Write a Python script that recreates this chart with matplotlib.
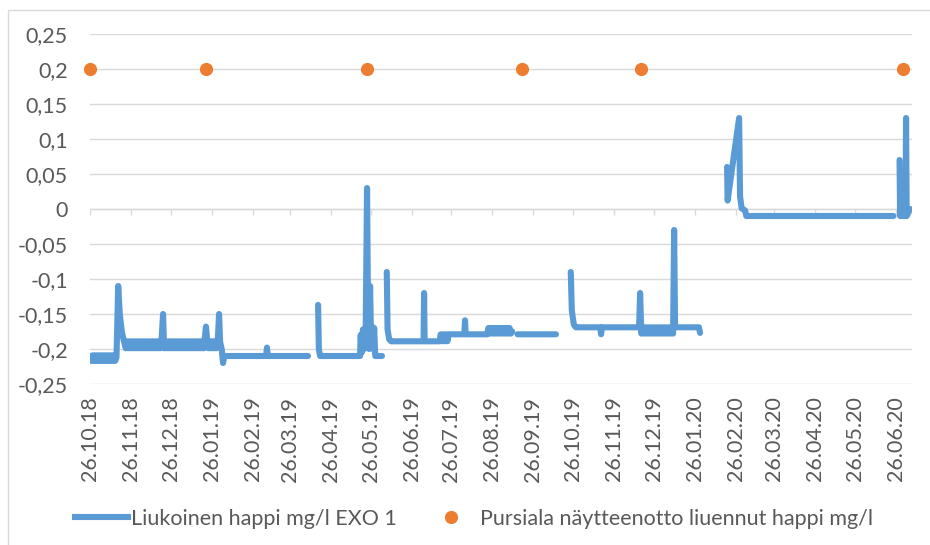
import numpy as np
import pandas as pd
import matplotlib
matplotlib.use("Agg")
import matplotlib.pyplot as plt
import matplotlib.dates as mdates
from matplotlib.lines import Line2D
from matplotlib.patches import Rectangle
from matplotlib.ticker import FuncFormatter

plt.rcParams['font.family'] = ['Lato', 'DejaVu Sans']

# ---------------- data ----------------
start_date = "2018-10-26"
axis_end = "2020-07-08"

# sensor series "Liukoinen happi mg/l EXO 1": (day offset from start_date, mg/l)
# each list is one continuous logging period (gaps between them)
seg_oct_jan = [
    (0, -0.211), (1, -0.217), (2, -0.209), (3, -0.217), (4, -0.209),
    (5, -0.217), (6, -0.209), (7, -0.217), (8, -0.209), (9, -0.217),
    (10, -0.209), (11, -0.217), (12, -0.209), (13, -0.217), (14, -0.209),
    (15, -0.217), (16, -0.209), (17, -0.217), (18, -0.209), (19, -0.217),
    (20, -0.212), (21.3, -0.110), (22.5, -0.150), (24, -0.175), (25.5, -0.188),
    (27, -0.199), (28, -0.189), (29, -0.199), (30, -0.189), (31, -0.199),
    (32, -0.189), (33, -0.199), (34, -0.189), (35, -0.199), (36, -0.189),
    (37, -0.199), (38, -0.189), (39, -0.199), (40, -0.189), (41, -0.199),
    (42, -0.189), (43, -0.199), (44, -0.189), (45, -0.199), (46, -0.189),
    (47, -0.199), (48, -0.189), (49, -0.199), (50, -0.189), (51, -0.199),
    (52, -0.189), (53, -0.199), (54, -0.189), (55.2, -0.150), (56, -0.199),
    (57, -0.189), (58, -0.199), (59, -0.189), (60, -0.199), (61, -0.189),
    (62, -0.199), (63, -0.189), (64, -0.199), (65, -0.189), (66, -0.199),
    (67, -0.189), (68, -0.199), (69, -0.189), (70, -0.199), (71, -0.189),
    (72, -0.199), (73, -0.189), (74, -0.199), (75, -0.189), (76, -0.199),
    (77, -0.189), (78, -0.199), (79, -0.189), (80, -0.199), (81, -0.189),
    (82, -0.199), (83, -0.189), (84, -0.199), (85, -0.189), (86, -0.199),
    (87.6, -0.168), (88.6, -0.189), (89.5, -0.199), (90.5, -0.189),
    (91.5, -0.199), (92.5, -0.189), (93.5, -0.199), (94.5, -0.189),
    (95.5, -0.199), (96.5, -0.189), (97.5, -0.150), (98.3, -0.190),
    (99.5, -0.200), (100.5, -0.220), (101.5, -0.210), (133, -0.210),
    (133.7, -0.198), (134.4, -0.210), (164.7, -0.210),
]
seg_apr_may = [
    (172.3, -0.137), (172.9, -0.200), (173.8, -0.210), (204, -0.210),
    (204.5, -0.180), (205.3, -0.205), (206.2, -0.172), (207.2, -0.200),
    (208.3, -0.168), (209.3, 0.030), (210.1, -0.160), (210.9, -0.200),
    (211.6, -0.110), (212.3, -0.185), (213.1, -0.168), (213.9, -0.200),
    (214.7, -0.170), (215.5, -0.210), (220.6, -0.210),
]
seg_jun_aug = [
    (224.2, -0.090), (224.8, -0.172), (226, -0.186), (227.5, -0.189),
    (252, -0.189), (252.4, -0.120), (252.8, -0.189), (264, -0.189),
    (265, -0.179), (266, -0.189), (267, -0.179), (268, -0.189), (269, -0.179),
    (270, -0.189), (271, -0.179), (282.8, -0.179), (283.3, -0.159),
    (283.8, -0.179), (300, -0.179), (301, -0.170), (302, -0.178),
    (303, -0.170), (304, -0.178), (305, -0.170), (306, -0.178), (307, -0.170),
    (308, -0.178), (309, -0.170), (310, -0.178), (311, -0.170), (312, -0.178),
    (313, -0.170), (314, -0.178), (315, -0.170), (316, -0.178), (317, -0.170),
    (318, -0.178), (319, -0.175),
]
seg_sep = [(323, -0.179), (352, -0.179)]
seg_oct_jan2 = [
    (363.2, -0.090), (364, -0.145), (365.5, -0.165), (367, -0.169),
    (385.5, -0.169), (386.1, -0.179), (386.7, -0.169), (414.8, -0.169),
    (415.6, -0.120), (416.5, -0.178), (417.5, -0.169), (418.5, -0.178),
    (419.5, -0.169), (420.5, -0.178), (421.5, -0.169), (422.5, -0.178),
    (423.5, -0.169), (424.5, -0.178), (425.5, -0.169), (426.5, -0.178),
    (427.5, -0.169), (428.5, -0.178), (429.5, -0.169), (430.5, -0.178),
    (431.5, -0.169), (432.5, -0.178), (433.5, -0.169), (434.5, -0.178),
    (435.5, -0.169), (436.5, -0.178), (437.5, -0.169), (438.5, -0.178),
    (439.5, -0.169), (440.5, -0.178), (441.3, -0.030), (442, -0.169),
    (460, -0.169), (460.9, -0.177),
]
seg_feb_jun = [
    (481.3, 0.060), (481.7, 0.012), (490.4, 0.130), (491.1, 0.018),
    (492.3, 0.001), (494.9, -0.002), (495.8, -0.010), (607, -0.010),
]
seg_jun_end = [
    (611.6, 0.070), (612.0, -0.010), (612.8, 0.050), (613.3, -0.010),
    (616.1, -0.010), (616.5, 0.130), (617, -0.010), (619.6, 0.000),
]
exo_segments = [seg_oct_jan, seg_apr_may, seg_jun_aug, seg_sep,
                seg_oct_jan2, seg_feb_jun, seg_jun_end]

# lab samples (Pursiala)
sample_dates = ["2018-10-26", "2019-01-22", "2019-05-23", "2019-09-17",
                "2019-12-16", "2020-07-01"]
sample_vals = [0.2, 0.2, 0.2, 0.2, 0.2, 0.2]

series_labels = ["Liukoinen happi mg/l EXO 1",
                 "Pursiala näytteenotto liuennut happi mg/l"]
y_ticks = [-0.25, -0.2, -0.15, -0.1, -0.05, 0, 0.05, 0.1, 0.15, 0.2, 0.25]

# ---------------- styling ----------------
BLUE = "#5B9BD5"
ORANGE = "#ED7D31"
GRID = "#D9D9D9"
TXT = "#595959"
FS = 15.5
LW = 4.4

t0 = pd.Timestamp(start_date)
days, vals = [], []
for seg in exo_segments:
    d, v = zip(*seg)
    days += list(d) + [d[-1] + 1]
    vals += list(v) + [np.nan]
exo_dates = t0 + pd.to_timedelta(np.array(days, dtype=float), unit="D")
s_dates = pd.to_datetime(sample_dates)

fig = plt.figure(figsize=(9.3, 5.45), dpi=100)
ax = fig.add_axes([90 / 930, 1 - 384 / 545, (912 - 90) / 930, (384 - 34) / 545])

ax.plot(exo_dates, vals, color=BLUE, lw=LW, solid_joinstyle="round",
        solid_capstyle="round", zorder=3)
ax.plot(s_dates, sample_vals, linestyle="none", marker="o", markersize=9.5,
        color=ORANGE, markeredgewidth=0, zorder=4, clip_on=False)

ax.set_xlim(t0, pd.Timestamp(axis_end))
ax.set_ylim(-0.25, 0.25)

ax.set_yticks(y_ticks)
ax.yaxis.set_major_formatter(FuncFormatter(
    lambda v, p: ("%g" % round(v, 2)).replace(".", ",")))
ax.grid(axis="y", color=GRID, lw=1)
ax.set_axisbelow(True)
for s in ax.spines.values():
    s.set_visible(False)
ax.tick_params(axis="y", length=0, pad=16, labelsize=FS, labelcolor=TXT)

ax.xaxis.set_major_locator(mdates.MonthLocator(bymonthday=26))
ax.xaxis.set_major_formatter(mdates.DateFormatter("%d.%m.%y"))
ax.tick_params(axis="x", length=0, pad=9, labelsize=FS, labelcolor=TXT,
               labelrotation=90)

# category axis line crosses at 0 with outside tick marks
ax.axhline(0, color=GRID, lw=1, zorder=1)
xt = ax.get_xticks()
ax.vlines(xt, -0.008, 0, color=GRID, lw=1, zorder=1)

# legend
handles = [Line2D([], [], color=BLUE, lw=LW),
           Line2D([], [], linestyle="none", marker="o", markersize=9.5,
                  color=ORANGE, markeredgewidth=0)]
fig.legend(handles, series_labels, loc="center",
           bbox_to_anchor=(474 / 930, 1 - 519 / 545), ncol=2, frameon=False,
           fontsize=FS, labelcolor=TXT, handlelength=2.5, handletextpad=0.1,
           columnspacing=1.3, borderaxespad=0, borderpad=0)

# outer chart border (only left and top edges fall inside the picture)
fig.patches.append(Rectangle((8 / 930, 1 - 560 / 545), (950 - 8) / 930,
                             (560 - 10) / 545, transform=fig.transFigure,
                             fill=False, edgecolor=GRID, lw=1))

fig.savefig("out.png", dpi=100)
